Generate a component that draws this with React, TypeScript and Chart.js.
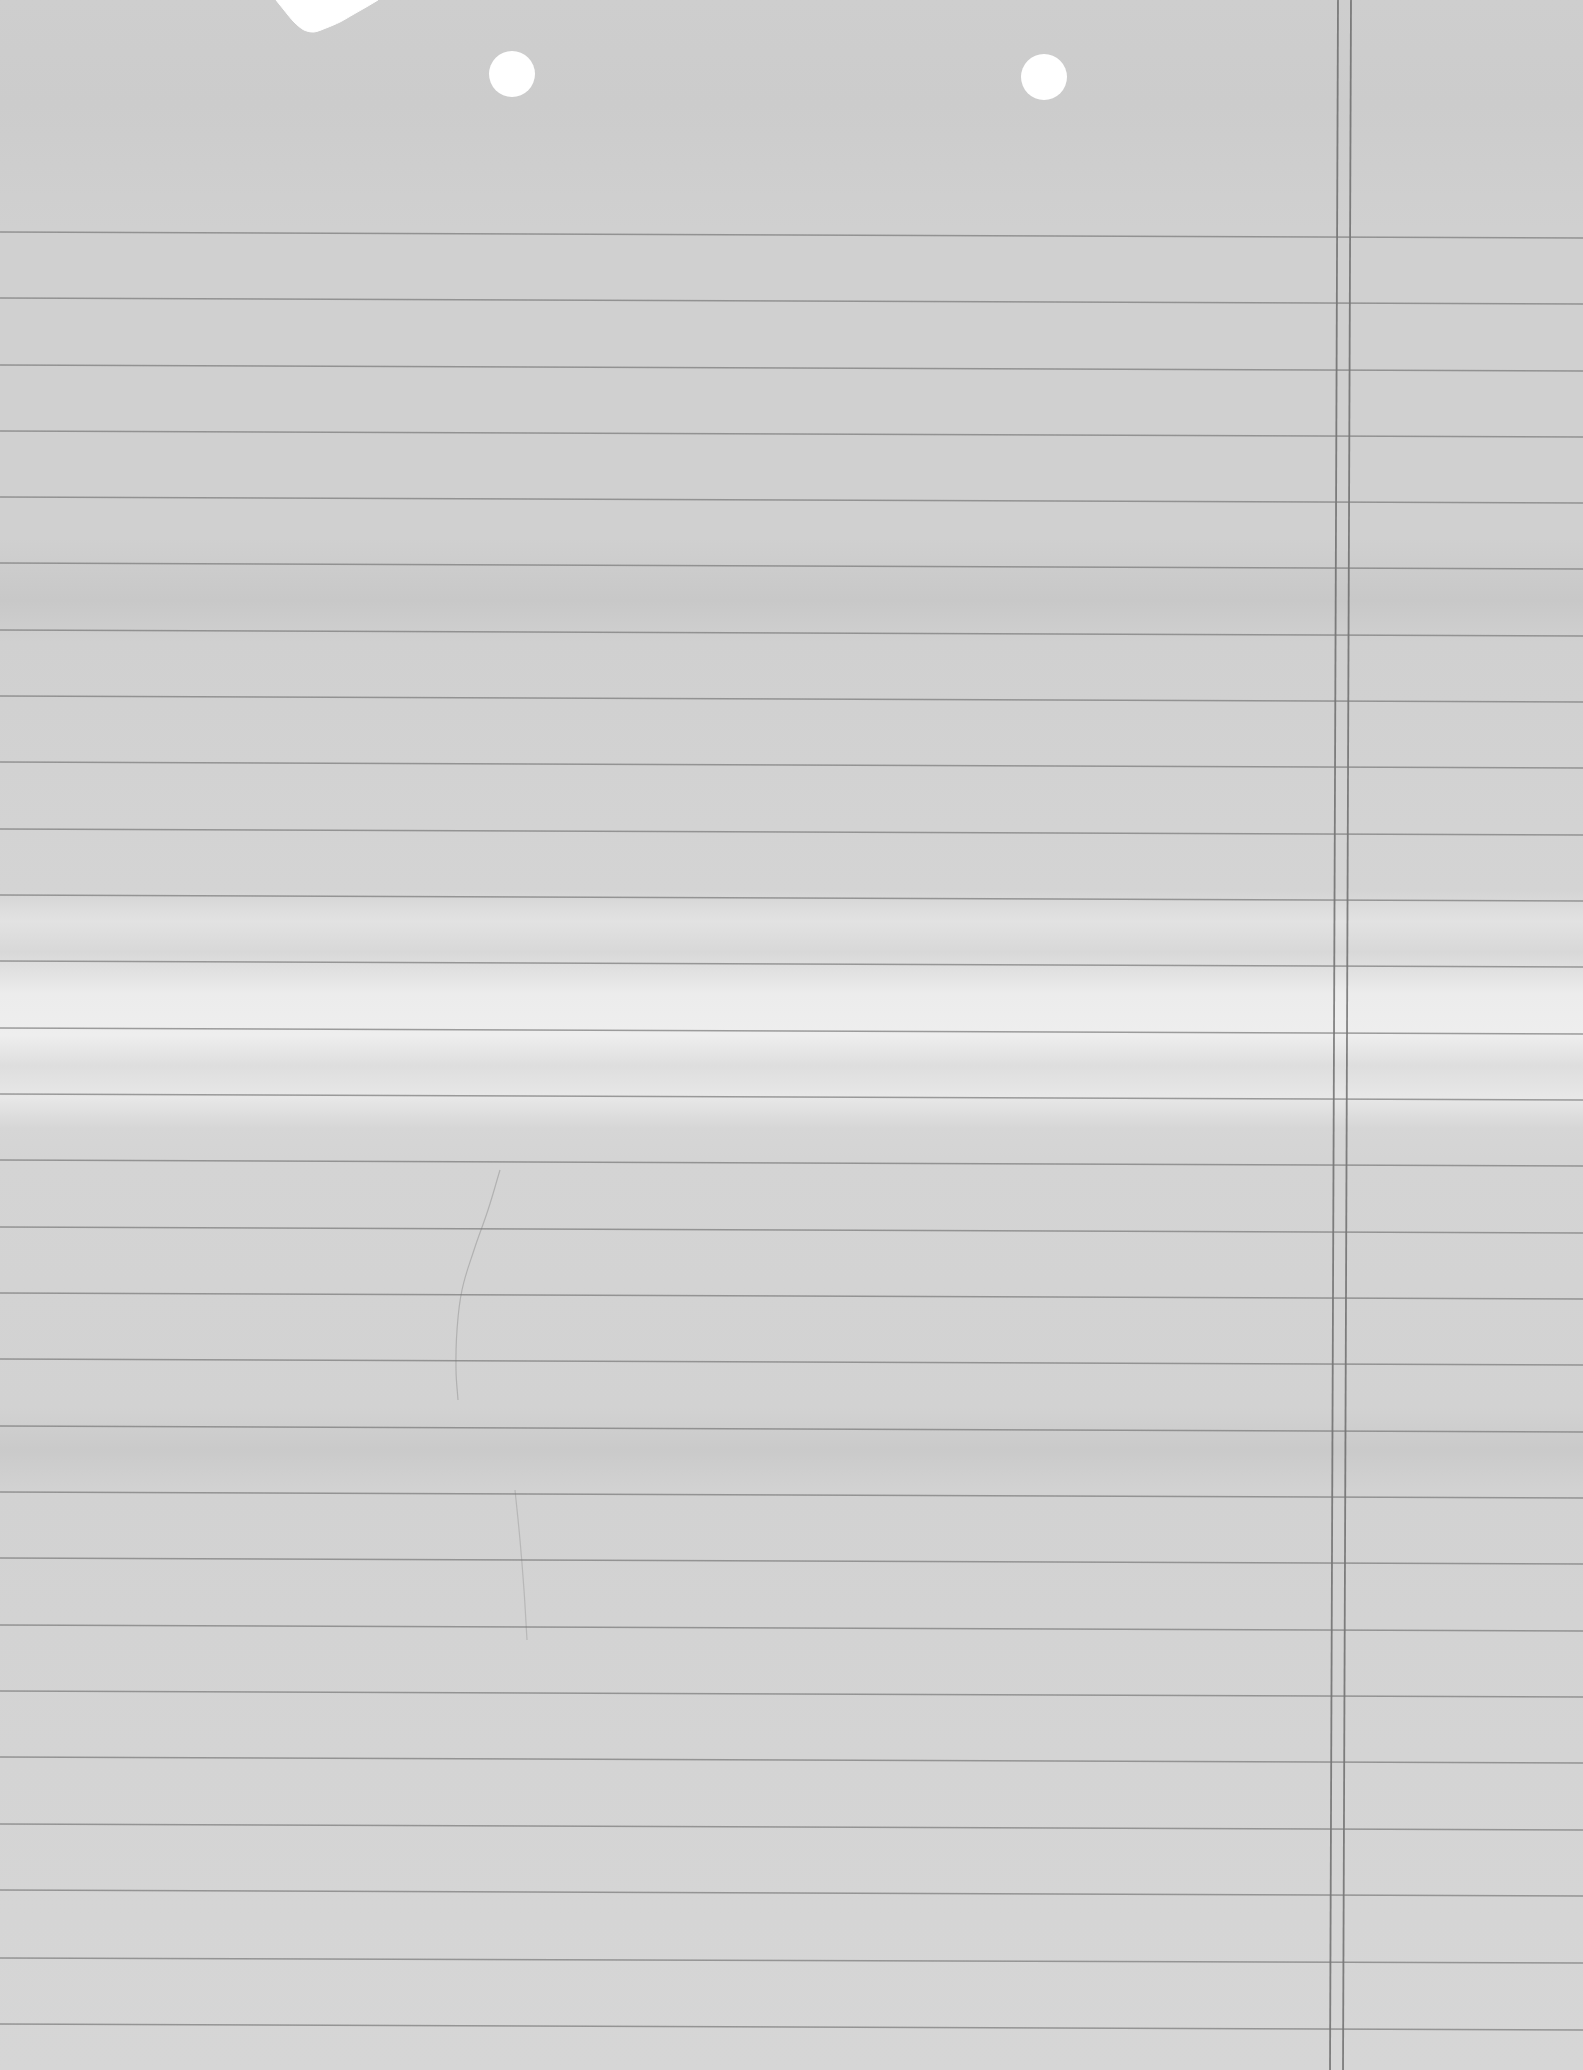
import React, { useEffect, useRef } from "react";
import { Chart, registerables } from "chart.js";

Chart.register(...registerables);

const PAGE_W = 1583;
const PAGE_H = 2070;

// Ruled lines: y position at left edge and right edge of the sheet (slight scan tilt)
const ruleLeftY = [232, 298, 365, 431, 497, 563, 630, 696, 762, 829, 895, 961, 1028, 1094, 1160, 1227, 1293, 1359, 1426, 1492, 1558, 1625, 1691, 1757, 1824, 1890, 1958, 2024];
const ruleRightY = [238, 304, 371, 437, 503, 569, 636, 702, 768, 835, 901, 967, 1034, 1100, 1166, 1233, 1299, 1365, 1432, 1498, 1564, 1631, 1697, 1763, 1830, 1896, 1963, 2030];

// Margin double line: x at top and bottom of the sheet
const marginTopX = [1338, 1351];
const marginBottomX = [1330, 1343];

// Punched holes
const holeX = [512, 1044];
const holeY = [74, 77];

// Torn corner at the top edge
const tearX = [276, 284, 294, 304, 314, 326, 340, 354, 368, 378];
const tearY = [0, 10, 22, 30, 32, 28, 22, 14, 6, 0];

// Faint fold crease
const creaseX = [500, 488, 474, 462, 457, 456, 458];
const creaseY = [1170, 1210, 1250, 1290, 1330, 1370, 1400];
const crease2X = [515, 520, 524, 527];
const crease2Y = [1490, 1540, 1590, 1640];

// Scan tone bands (fraction of height, grey)
const toneStops = [0, 0.05, 0.11, 0.26, 0.29, 0.31, 0.43, 0.445, 0.46, 0.48, 0.5, 0.515, 0.525, 0.53, 0.545, 0.56, 0.68, 0.7, 0.72, 0.85, 1];
const toneGrey = [206, 204, 208, 208, 200, 208, 212, 226, 216, 236, 238, 222, 228, 232, 214, 212, 210, 202, 210, 212, 214];

export default function App() {
  const ref = useRef<HTMLCanvasElement | null>(null);

  useEffect(() => {
    document.body.style.margin = "0";
    document.body.style.background = "#d2d2d2";
    const canvas = ref.current;
    if (!canvas) return;

    const bgPlugin = {
      id: "paperTone",
      beforeDraw(chart: any) {
        const ctx = chart.ctx as CanvasRenderingContext2D;
        const g = ctx.createLinearGradient(0, 0, 0, chart.height);
        toneStops.forEach((s, i) => {
          const v = toneGrey[i];
          g.addColorStop(s, `rgb(${v},${v},${v})`);
        });
        ctx.save();
        ctx.fillStyle = g;
        ctx.fillRect(0, 0, chart.width, chart.height);
        ctx.restore();
      },
    };

    const ruleSets = ruleLeftY.map((y, i) => ({
      type: "line" as const,
      data: [
        { x: 0, y },
        { x: PAGE_W, y: ruleRightY[i] },
      ],
      borderColor: "rgba(120,120,120,0.7)",
      borderWidth: 1.6,
      pointRadius: 0,
      showLine: true,
      fill: false,
    }));

    const marginSets = marginTopX.map((x, i) => ({
      type: "line" as const,
      data: [
        { x, y: 0 },
        { x: marginBottomX[i], y: PAGE_H },
      ],
      borderColor: "rgba(95,95,95,0.75)",
      borderWidth: 1.8,
      pointRadius: 0,
      showLine: true,
      fill: false,
    }));

    const chart = new Chart(canvas, {
      type: "scatter",
      data: {
        datasets: [
          ...ruleSets,
          ...marginSets,
          {
            type: "line",
            data: creaseX.map((x, i) => ({ x, y: creaseY[i] })),
            borderColor: "rgba(150,150,150,0.55)",
            borderWidth: 1.2,
            pointRadius: 0,
            tension: 0.4,
            showLine: true,
            fill: false,
          },
          {
            type: "line",
            data: crease2X.map((x, i) => ({ x, y: crease2Y[i] })),
            borderColor: "rgba(150,150,150,0.45)",
            borderWidth: 1.2,
            pointRadius: 0,
            tension: 0.4,
            showLine: true,
            fill: false,
          },
          {
            type: "line",
            data: tearX.map((x, i) => ({ x, y: tearY[i] })),
            borderColor: "#ffffff",
            backgroundColor: "#ffffff",
            borderWidth: 1,
            pointRadius: 0,
            tension: 0.3,
            showLine: true,
            fill: { value: 0 },
          },
          {
            type: "scatter",
            data: holeX.map((x, i) => ({ x, y: holeY[i] })),
            backgroundColor: "#ffffff",
            borderColor: "#ffffff",
            borderWidth: 0,
            pointRadius: 23,
            pointHoverRadius: 23,
          },
        ] as any,
      },
      options: {
        animation: false,
        responsive: false,
        devicePixelRatio: 1,
        layout: { padding: 0, autoPadding: false },
        plugins: {
          legend: { display: false },
          tooltip: { enabled: false },
          title: { display: false },
        },
        scales: {
          x: { type: "linear", min: 0, max: PAGE_W, display: false },
          y: { type: "linear", min: 0, max: PAGE_H, reverse: true, display: false },
        },
      } as any,
      plugins: [bgPlugin],
    });

    return () => chart.destroy();
  }, []);

  return (
    <div style={{ position: "absolute", left: 0, top: 0, width: PAGE_W, height: PAGE_H }}>
      <canvas ref={ref} width={PAGE_W} height={PAGE_H} style={{ display: "block" }} />
    </div>
  );
}
